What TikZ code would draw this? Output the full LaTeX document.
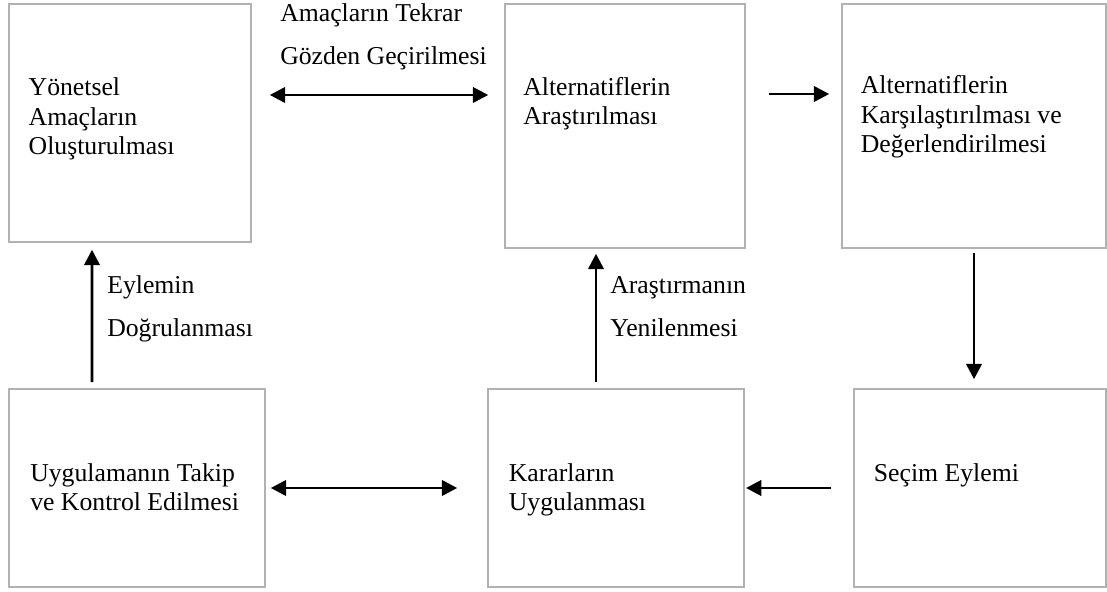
\documentclass[tikz,border=0pt]{standalone}
\usepackage{fontspec}
\setmainfont{Liberation Serif}
\usetikzlibrary{arrows.meta,calc}

\begin{document}
\begin{tikzpicture}[
  box/.style={draw=gray!60,line width=1.1pt,rectangle,inner sep=0pt},
  txt/.style={anchor=base west,align=left,inner sep=0pt,font=\fontsize{18.3}{21}\selectfont},
  lbl/.style={anchor=base west,align=left,inner sep=0pt,font=\fontsize{18.3}{31}\selectfont},
  arr/.style={line width=2pt,-{Triangle[length=11pt,width=11pt]}},
  darr/.style={line width=2pt,{Triangle[length=11pt,width=11pt]}-{Triangle[length=11pt,width=11pt]}}
]
  \useasboundingbox (0,0) rectangle (27.675,14.775);

  \node[box,minimum width=6.05cm,minimum height=5.95cm] (yon) at (3.25,11.7) {};
  \node[box,minimum width=6cm,minimum height=6.1cm] (alt) at (15.625,11.625) {};
  \node[box,minimum width=6.6cm,minimum height=6.1cm] (kars) at (24.35,11.625) {};
  \node[box,minimum width=6.4cm,minimum height=4.95cm] (takip) at (3.425,2.575) {};
  \node[box,minimum width=6.4cm,minimum height=4.95cm] (karar) at (15.4,2.575) {};
  \node[box,minimum width=6.3cm,minimum height=4.95cm] (secim) at (24.5,2.575) {};

  \node[txt] (yontxt) at (0.71,10.9) {Yönetsel\\Amaçların\\Oluşturulması};
  \node[txt] (alttxt) at (13.075,11.65) {Alternatiflerin\\Araştırılması};
  \node[txt] (karstxt) at (21.515,10.95) {Alternatiflerin\\Karşılaştırılması ve\\Değerlendirilmesi};
  \node[txt] (takiptxt) at (0.75,2.0) {Uygulamanın Takip\\ve Kontrol Edilmesi};
  \node[txt] (karartxt) at (12.715,2.0) {Kararların\\Uygulanması};
  \node[txt] (secimtxt) at (21.84,2.73) {Seçim Eylemi};

  \node[lbl] (tekrar) at (7.0,13.15) {Amaçların Tekrar\\Gözden Geçirilmesi};
  \node[lbl] (dogru) at (2.675,6.36) {Eylemin\\Doğrulanması};
  \node[lbl] (yeni) at (15.25,6.36) {Araştırmanın\\Yenilenmesi};

  \draw[darr] ([shift={(0.45,0.7)}]yon.east) -- ([shift={(-0.4,0.775)}]alt.west);
  \draw[arr] ([shift={(0.575,0.8)}]alt.east) -- ([shift={(-0.3,0.8)}]kars.west);
  \draw[arr] ([yshift=-0.1cm]kars.south) -- ($(kars.south |- secim.north)+(0,0.225)$);
  \draw[arr] ([xshift=-0.55cm]secim.west) -- ([xshift=0.03cm]karar.east);
  \draw[darr] ([xshift=0.125cm]takip.east) -- ([xshift=-0.75cm]karar.west);
  \draw[arr] ([shift={(-0.5,0.15)}]karar.north) -- ([shift={(-0.725,-0.125)}]alt.south);
  \draw[arr] ([shift={(-1.125,0.15)}]takip.north) -- ([shift={(-0.95,-0.175)}]yon.south);
\end{tikzpicture}
\end{document}
